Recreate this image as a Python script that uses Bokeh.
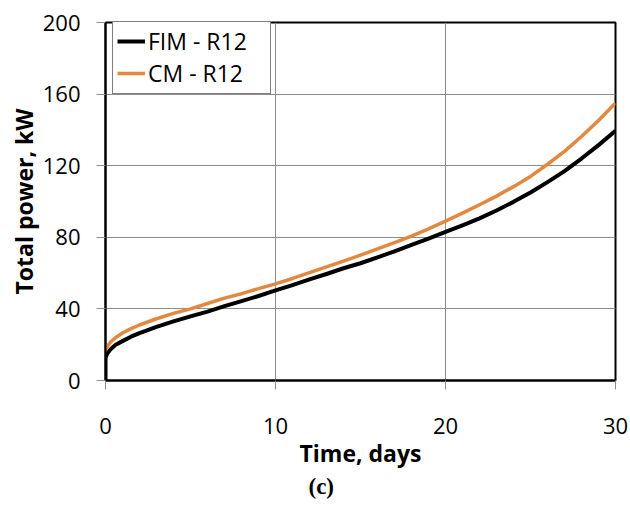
from bokeh.plotting import figure
from bokeh.models import Range1d, Legend, LegendItem, FixedTicker, Title
from bokeh.embed import file_html
from bokeh.resources import INLINE

# Data
time_fim = [0, 0, 0.1, 0.3, 0.6, 1, 1.5, 2, 3, 4, 5, 6, 7, 8, 9, 10, 11, 12, 13, 14, 15,
            16, 17, 18, 19, 20, 21, 22, 23, 24, 25, 26, 27, 28, 29, 30]
power_fim = [0, 12.5, 15, 17.5, 20, 22, 24.5, 26.5, 30, 33, 35.8, 38.5, 41.5, 44.3, 47.2, 50.3,
             53.3, 56.5, 59.5, 62.7, 65.5, 68.8, 72.2, 75.7, 79.3, 83, 86.7, 90.6, 95, 99.8,
             105, 110.8, 117, 124, 131.5, 139.5]

time_cm = [0, 0.1, 0.3, 0.6, 1, 1.5, 2, 3, 4, 5, 6, 7, 8, 9, 10, 11, 12, 13, 14, 15,
           16, 17, 18, 19, 20, 21, 22, 23, 24, 25, 26, 27, 28, 29, 30]
power_cm = [17, 19, 21.5, 24, 26.5, 29, 31, 34.5, 37.5, 40, 43, 46, 48.5, 51.3, 54, 57,
            60.3, 63.5, 66.7, 70, 73.5, 77, 80.7, 84.7, 89, 93.5, 98.2, 103, 108.3, 114,
            120.8, 128, 136.3, 145.3, 155]

x_ticks = [0, 10, 20, 30]
y_ticks = [0, 40, 80, 120, 160, 200]

FONT = "Open Sans"

p = figure(width=630, height=506, output_backend="svg", toolbar_location=None,
           x_range=Range1d(0, 30), y_range=Range1d(0, 200),
           min_border_left=105, min_border_right=15, min_border_top=22, min_border_bottom=126)
p.frame_width = 510
p.frame_height = 358

p.background_fill_color = "white"
p.border_fill_color = "white"
p.outline_line_color = "black"
p.outline_line_width = 2

r1 = p.line(time_fim, power_fim, line_color="black", line_width=4, line_join="round")
r2 = p.line(time_cm, power_cm, line_color="#E3883F", line_width=3.5, line_join="round")

for g in (p.xgrid, p.ygrid):
    g.grid_line_color = "#8c8c8c"
    g.grid_line_width = 1
p.xgrid.ticker = FixedTicker(ticks=x_ticks)
p.ygrid.ticker = FixedTicker(ticks=y_ticks)

xa = p.xaxis[0]
ya = p.yaxis[0]
xa.ticker = FixedTicker(ticks=x_ticks)
ya.ticker = FixedTicker(ticks=y_ticks)
for ax in (xa, ya):
    ax.axis_line_color = "black"
    ax.axis_line_width = 2
    ax.major_tick_line_color = "#8c8c8c"
    ax.major_tick_line_width = 1
    ax.major_tick_out = 9
    ax.major_tick_in = 0
    ax.minor_tick_line_color = None
    ax.major_label_text_font = FONT
    ax.major_label_text_font_size = "22px"
    ax.major_label_text_color = "black"
    ax.axis_label_text_font = FONT
    ax.axis_label_text_font_size = "23px"
    ax.axis_label_text_font_style = "bold"
    ax.axis_label_text_color = "black"

xa.axis_label = "Time, days"
ya.axis_label = "Total power, kW"
xa.major_label_standoff = 28
ya.major_label_standoff = 16
xa.axis_label_standoff = 0
ya.axis_label_standoff = 0

legend = Legend(items=[LegendItem(label="FIM - R12", renderers=[r1]),
                       LegendItem(label="CM - R12", renderers=[r2])],
                location=(7, 286))
legend.border_line_color = "black"
legend.border_line_width = 1
legend.label_text_font = FONT
legend.label_text_font_size = "23px"
legend.label_text_color = "black"
legend.glyph_width = 28
legend.glyph_height = 20
legend.label_height = 20
legend.label_width = 118
legend.label_standoff = 3
legend.padding = 4
legend.spacing = -8
legend.margin = 0
legend.background_fill_alpha = 1
p.add_layout(legend, "center")

cap = Title(text="(c)", align="left", text_font="Liberation Serif",
            text_font_size="23px", text_font_style="bold", text_color="black",
            offset=203, standoff=0)
p.add_layout(cap, "below")

open("out.html", "w").write(file_html(p, INLINE))
